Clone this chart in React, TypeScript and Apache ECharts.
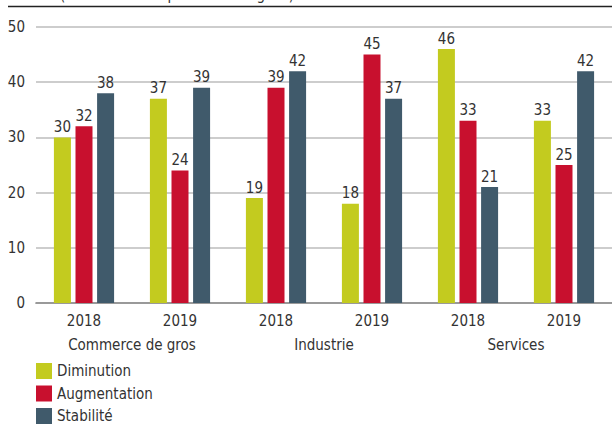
import React, { useEffect, useRef } from "react";
import * as echarts from "echarts";

const years = ["2018", "2019", "2018", "2019", "2018", "2019"];
const sectors = ["Commerce de gros", "Industrie", "Services"];
const diminution = [30, 37, 19, 18, 46, 33];
const augmentation = [32, 24, 39, 45, 33, 25];
const stabilite = [38, 39, 42, 37, 21, 42];
const seriesNames = ["Diminution", "Augmentation", "Stabilité"];
const yTicks = { min: 0, max: 50, interval: 10 };
const subtitle = "(en % des entreprises interrogées)";

const FONT = "'DejaVu Sans Condensed', 'Liberation Sans Narrow', sans-serif";
const TXT = "#333333";
const COLORS = ["#c3cb1f", "#c8102e", "#405a6b"];
const FS = 15;

export default function App() {
  const ref = useRef<HTMLDivElement>(null);
  useEffect(() => {
    if (!ref.current) return;
    const chart = echarts.init(ref.current, null, { renderer: "svg" });
    const values = [diminution, augmentation, stabilite];
    chart.setOption({
      animation: false,
      textStyle: { fontFamily: FONT },
      grid: { left: 36, right: 0, top: 27, bottom: 121, containLabel: false },
      legend: {
        orient: "vertical",
        left: 36,
        top: 363,
        height: 70,
        icon: "rect",
        itemWidth: 16,
        itemHeight: 16,
        itemGap: 6.5,
        padding: 0,
        textStyle: { fontSize: FS, color: TXT, fontFamily: FONT },
        data: seriesNames,
      },
      xAxis: [
        {
          type: "category",
          data: years,
          axisLine: { show: true, lineStyle: { color: "#888888", width: 1.7 } },
          axisTick: { show: false },
          axisLabel: { color: TXT, fontSize: FS, margin: 10, fontFamily: FONT },
        },
        {
          type: "category",
          data: sectors,
          position: "bottom",
          offset: 24,
          axisLine: { show: false },
          axisTick: { show: false },
          axisLabel: { color: TXT, fontSize: FS, margin: 10, fontFamily: FONT },
        },
      ],
      yAxis: {
        type: "value",
        min: yTicks.min,
        max: yTicks.max,
        interval: yTicks.interval,
        axisLine: { show: false },
        axisTick: { show: false },
        axisLabel: { color: TXT, fontSize: FS, margin: 11, fontFamily: FONT },
        splitLine: { lineStyle: { color: "#bdbdbd", width: 1.5 } },
      },
      graphic: [
        {
          type: "line",
          shape: { x1: 8, y1: 6.5, x2: 612, y2: 6.5 },
          style: { stroke: "#222222", lineWidth: 1.5 },
        },
        {
          type: "text",
          x: 60,
          y: 2.5,
          style: {
            text: subtitle,
            fill: TXT,
            fontSize: FS,
            fontFamily: FONT,
            textAlign: "left",
            textVerticalAlign: "bottom",
          },
        },
      ],
      series: seriesNames.map((name, i) => ({
        name,
        type: "bar",
        xAxisIndex: 0,
        data: values[i],
        barWidth: 17,
        barGap: "27%",
        itemStyle: { color: COLORS[i] },
        label: {
          show: true,
          position: "top",
          distance: 3,
          color: TXT,
          fontSize: FS,
          fontFamily: FONT,
        },
      })),
    });
    return () => chart.dispose();
  }, []);
  return (
    <div
      ref={ref}
      style={{ position: "absolute", left: 0, top: 0, width: 612, height: 424 }}
    />
  );
}
